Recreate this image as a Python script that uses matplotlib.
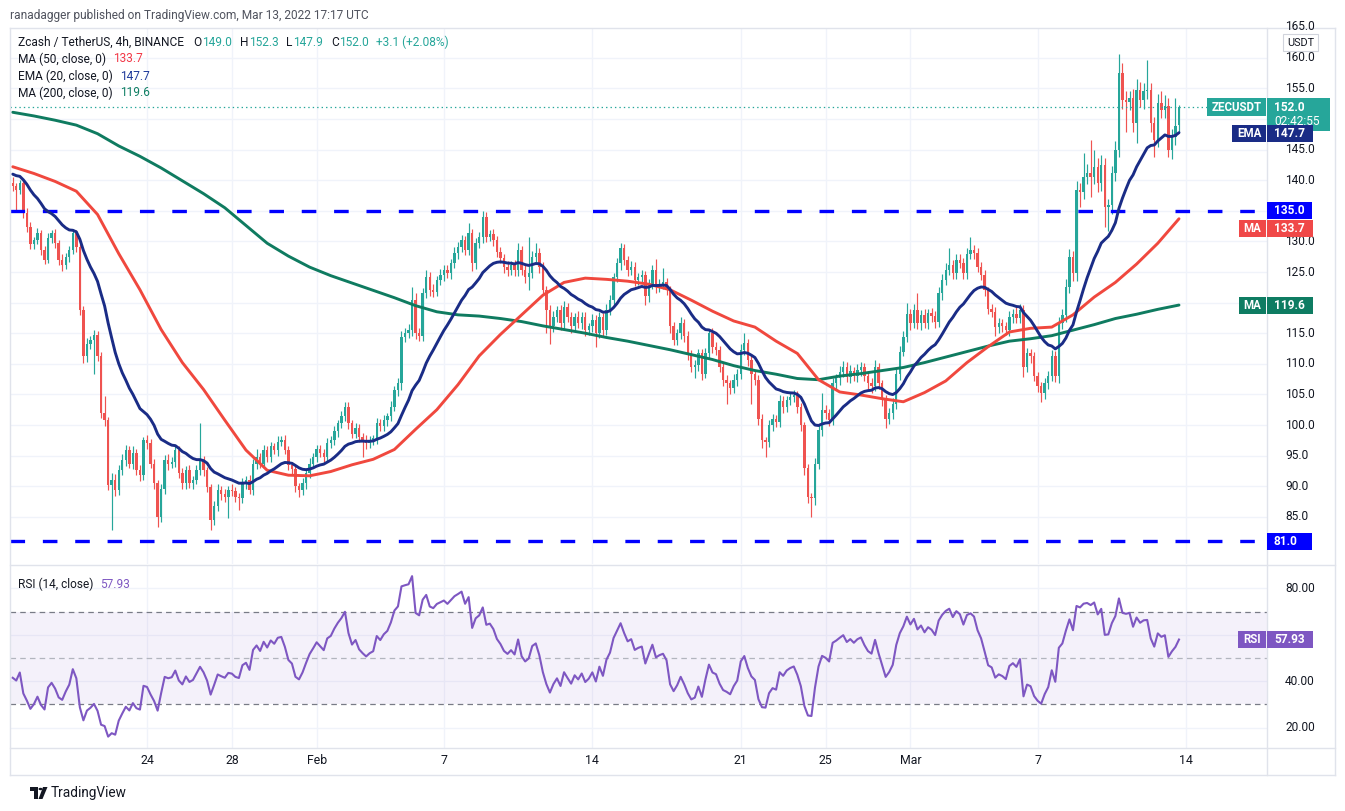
import numpy as np
import matplotlib
matplotlib.use("Agg")
import matplotlib.pyplot as plt
from matplotlib.patches import Rectangle, Polygon, Circle
from matplotlib.lines import Line2D

plt.rcParams['font.family'] = ['Roboto', 'DejaVu Sans']
plt.rcParams['lines.scale_dashes'] = False

# ---------------- data (4h candles, Jan 17 16:00 -> Mar 13 16:00, 2022) ----------------
first_open = 139.5
closes = [
    139.0, 138.4, 139.6, 134.6, 132.4, 129.5, 130.2, 131.3, 128.6, 127.0,
    130.5, 131.3, 129.7, 127.0, 126.2, 127.5, 128.6, 131.3, 129.1, 118.8,
    111.2, 113.3, 113.9, 114.7, 111.2, 101.9, 100.8, 90.2, 91.0, 89.4,
    92.6, 94.3, 95.9, 93.7, 95.4, 92.6, 91.8, 97.5, 97.0, 93.7,
    90.5, 85.0, 89.5, 94.3, 93.7, 94.0, 95.9, 92.1, 90.5, 92.6,
    90.5, 91.0, 92.6, 94.3, 92.6, 89.9, 84.5, 86.8, 89.4, 88.8,
    88.3, 89.4, 89.2, 88.3, 88.0, 90.5, 91.0, 89.4, 93.7, 94.8,
    93.7, 95.9, 94.8, 96.5, 95.9, 97.3, 97.5, 95.9, 93.5, 92.8,
    90.0, 89.4, 90.5, 92.1, 93.7, 94.8, 96.0, 95.4, 94.8, 97.0,
    97.5, 99.0, 100.3, 101.4, 103.0, 100.3, 98.6, 99.5, 98.1, 97.5,
    97.0, 97.5, 97.8, 100.3, 99.8, 100.8, 101.4, 103.0, 105.7, 106.8,
    114.4, 115.0, 115.5, 120.4, 115.0, 114.6, 121.5, 124.2, 122.1, 121.8,
    123.7, 124.5, 125.3, 124.8, 126.4, 128.1, 129.1, 130.2, 128.6, 131.3,
    126.4, 129.7, 130.8, 134.0, 130.8, 131.2, 130.2, 128.3, 127.3, 125.9,
    125.3, 126.1, 125.3, 128.6, 125.3, 124.2, 124.8, 127.5, 128.1, 125.9,
    122.1, 118.8, 116.1, 117.7, 118.8, 116.6, 119.3, 117.7, 116.1, 117.7,
    116.6, 117.7, 115.5, 116.1, 117.2, 115.0, 117.7, 115.5, 118.8, 120.4,
    124.2, 126.4, 128.9, 127.0, 125.3, 125.9, 123.7, 124.2, 124.5, 121.0,
    123.1, 125.3, 122.6, 123.1, 123.4, 122.1, 116.1, 113.9, 115.0, 116.6,
    114.5, 111.7, 109.5, 109.8, 111.7, 108.4, 111.7, 115.0, 112.8, 112.3,
    109.5, 107.4, 106.8, 106.0, 107.4, 108.4, 112.2, 113.4, 110.6, 108.4,
    107.4, 101.0, 97.5, 97.3, 100.0, 101.0, 100.5, 104.0, 103.0, 104.1,
    104.6, 104.9, 103.0, 100.0, 93.0, 88.3, 88.0, 93.7, 99.2, 102.5,
    101.9, 100.8, 106.8, 107.6, 108.6, 109.5, 107.9, 108.8, 108.0, 109.0,
    109.5, 108.0, 106.8, 106.3, 109.5, 106.8, 104.1, 101.0, 102.0, 103.5,
    108.4, 112.0, 114.4, 118.2, 116.6, 118.8, 116.6, 118.0, 116.6, 118.3,
    117.8, 116.8, 121.5, 123.7, 125.3, 126.2, 124.8, 127.0, 126.5, 124.8,
    128.0, 128.6, 128.1, 125.9, 124.5, 122.0, 119.0, 118.5, 116.0, 116.6,
    116.2, 115.5, 117.7, 118.2, 117.5, 118.8, 109.5, 111.7, 111.2, 108.0,
    106.3, 105.2, 106.8, 108.0, 111.2, 108.0, 116.6, 118.0, 122.6, 127.5,
    124.8, 138.4, 138.0, 140.6, 141.1, 140.6, 142.2, 139.5, 142.5, 135.7,
    135.9, 141.1, 144.9, 157.5, 153.1, 152.8, 153.4, 149.3, 154.7, 153.1,
    154.5, 154.7, 149.3, 146.6, 152.6, 151.5, 152.2, 144.9, 147.1, 148.9,
    152.0,
]
upper_wicks = [
    1.0, 0.6, 0.5, 0.4, 0.8, 0.7, 0.6, 0.9, 0.5, 0.6,
    0.8, 0.6, 0.7, 0.5, 0.9, 0.6, 0.7, 0.8, 0.6, 0.5,
    0.6, 0.9, 0.7, 0.8, 0.6, 0.7, 2.8, 0.5, 1.2, 1.0,
    0.8, 1.0, 0.9, 0.7, 1.1, 0.6, 0.8, 0.6, 0.9, 0.7,
    0.8, 0.5, 0.9, 0.8, 1.0, 0.7, 0.9, 0.6, 0.8, 0.7,
    0.9, 0.6, 0.8, 6.0, 0.7, 0.6, 0.5, 0.8, 0.9, 0.7,
    0.8, 0.6, 0.9, 0.7, 0.6, 0.8, 0.7, 0.9, 0.8, 1.2,
    0.6, 0.9, 0.7, 0.8, 0.6, 0.9, 0.7, 0.8, 0.6, 0.5,
    0.7, 0.6, 0.8, 0.7, 0.9, 0.6, 0.8, 0.7, 0.6, 0.9,
    0.7, 0.8, 0.6, 0.9, 0.8, 0.7, 0.6, 0.9, 0.7, 0.6,
    0.8, 0.7, 0.6, 0.9, 0.7, 0.8, 0.6, 0.9, 0.7, 0.8,
    0.9, 0.8, 1.0, 2.2, 1.2, 0.8, 0.9, 1.1, 0.8, 0.9,
    0.7, 1.0, 0.8, 0.9, 0.7, 1.0, 0.8, 0.9, 0.7, 1.7,
    0.8, 0.9, 0.7, 0.9, 0.8, 0.6, 0.9, 0.7, 0.8, 0.6,
    0.9, 0.7, 0.8, 1.2, 0.7, 0.8, 6.0, 0.9, 1.6, 0.8,
    0.7, 0.6, 0.8, 0.9, 0.7, 0.8, 1.0, 0.7, 0.8, 0.6,
    0.9, 0.7, 0.8, 0.6, 0.9, 0.7, 0.8, 0.6, 0.9, 0.8,
    0.7, 0.9, 0.8, 0.7, 0.6, 0.9, 0.8, 0.7, 0.9, 0.6,
    0.8, 0.9, 1.9, 0.8, 2.2, 0.7, 0.6, 0.8, 0.7, 1.1,
    0.7, 0.8, 0.6, 0.9, 0.8, 0.7, 0.9, 0.5, 0.8, 0.7,
    0.6, 0.8, 0.7, 0.6, 0.9, 0.8, 1.0, 1.6, 0.7, 0.8,
    0.6, 0.7, 0.8, 0.6, 0.9, 0.8, 0.7, 0.9, 0.8, 0.7,
    0.8, 0.9, 0.7, 0.6, 0.5, 0.7, 0.6, 0.9, 0.8, 2.7,
    0.8, 0.7, 0.9, 0.8, 1.0, 0.9, 0.8, 1.0, 0.7, 0.9,
    0.8, 0.7, 0.9, 0.8, 1.1, 0.7, 0.6, 0.8, 0.7, 0.9,
    0.8, 0.9, 1.0, 1.7, 0.8, 0.9, 2.7, 0.8, 0.9, 0.7,
    0.9, 0.8, 1.0, 0.9, 1.1, 2.7, 0.8, 1.0, 0.9, 0.8,
    1.0, 2.2, 0.8, 0.9, 0.7, 0.8, 0.6, 0.7, 0.8, 0.9,
    0.8, 0.7, 0.9, 0.8, 1.1, 1.0, 0.8, 0.9, 0.7, 0.8,
    0.6, 0.7, 0.9, 0.8, 1.0, 0.9, 1.1, 1.0, 1.2, 1.3,
    1.0, 1.4, 1.2, 3.8, 1.5, 5.5, 2.7, 1.4, 1.6, 1.2,
    1.0, 1.3, 1.5, 3.2, 1.6, 1.4, 1.2, 1.5, 1.8, 1.3,
    1.4, 4.9, 1.2, 1.1, 1.5, 2.0, 1.7, 1.3, 1.2, 4.5,
    0.3,
]
lower_wicks = [
    0.7, 3.5, 0.6, 0.8, 0.9, 0.7, 0.8, 0.6, 0.9, 0.7,
    0.6, 0.8, 0.7, 0.9, 1.0, 0.7, 0.8, 0.6, 0.9, 0.8,
    1.0, 0.9, 0.8, 5.6, 0.8, 0.7, 0.9, 0.8, 7.4, 1.0,
    0.9, 0.8, 1.0, 0.7, 0.9, 0.8, 1.0, 0.8, 0.9, 0.8,
    1.0, 1.6, 0.9, 0.8, 1.0, 0.7, 0.9, 0.8, 1.0, 0.9,
    0.8, 0.9, 0.7, 0.8, 0.9, 0.8, 1.7, 0.9, 0.8, 1.0,
    0.9, 3.5, 0.8, 0.9, 1.9, 0.8, 0.9, 0.7, 0.8, 0.9,
    0.8, 0.7, 0.9, 0.8, 0.7, 0.9, 0.8, 0.7, 0.9, 0.8,
    1.0, 1.2, 0.8, 0.9, 0.7, 0.8, 0.9, 0.7, 0.8, 0.9,
    0.8, 0.7, 0.9, 0.8, 0.7, 0.9, 0.8, 0.7, 0.9, 2.7,
    0.9, 0.8, 0.7, 0.9, 0.8, 0.7, 0.9, 0.8, 0.7, 0.9,
    1.0, 0.9, 0.8, 1.0, 0.9, 0.8, 0.9, 0.8, 1.0, 0.9,
    0.8, 0.9, 1.0, 0.8, 0.9, 0.8, 1.0, 0.9, 0.8, 0.9,
    1.2, 0.9, 0.8, 1.0, 0.9, 0.8, 1.0, 0.9, 0.8, 1.0,
    0.9, 0.8, 1.0, 0.9, 0.8, 1.0, 2.1, 0.8, 0.9, 1.0,
    0.9, 3.8, 2.8, 0.9, 0.8, 1.0, 0.9, 0.8, 1.0, 0.9,
    0.8, 0.9, 1.0, 0.8, 0.9, 2.2, 0.8, 0.9, 0.8, 0.9,
    0.8, 0.9, 1.0, 0.8, 0.9, 0.8, 1.0, 0.9, 0.8, 1.4,
    0.9, 0.8, 1.0, 0.9, 0.8, 0.9, 1.0, 0.9, 0.8, 1.0,
    0.9, 1.0, 0.8, 1.9, 0.9, 1.0, 0.8, 0.9, 1.0, 0.8,
    0.9, 1.0, 3.3, 0.9, 0.8, 1.0, 0.9, 0.8, 1.0, 4.9,
    0.9, 1.0, 1.2, 2.5, 0.9, 1.0, 0.8, 0.9, 1.0, 0.8,
    0.9, 0.8, 1.0, 0.9, 1.2, 1.0, 3.0, 1.0, 0.9, 1.0,
    0.9, 1.0, 0.8, 0.9, 1.0, 0.8, 0.9, 1.0, 0.8, 0.9,
    1.0, 0.8, 0.9, 1.0, 0.8, 0.9, 1.0, 1.5, 0.9, 1.0,
    0.9, 1.0, 0.8, 0.9, 1.0, 0.8, 0.9, 1.0, 0.8, 0.9,
    1.0, 0.9, 0.8, 1.0, 0.9, 0.8, 1.0, 0.9, 0.8, 1.0,
    0.9, 0.8, 1.0, 0.9, 0.8, 1.0, 0.9, 0.8, 1.5, 0.9,
    1.0, 0.8, 0.9, 1.0, 0.8, 0.9, 1.6, 0.9, 1.0, 0.8,
    0.9, 1.4, 1.0, 0.9, 0.8, 1.0, 1.1, 0.9, 1.2, 1.0,
    1.3, 1.2, 2.3, 1.1, 1.3, 3.3, 1.2, 1.5, 1.3, 3.3,
    4.0, 1.5, 1.3, 1.1, 1.4, 5.0, 1.3, 1.5, 3.3, 1.2,
    1.4, 1.3, 1.5, 2.8, 1.2, 1.4, 1.3, 1.1, 1.5, 1.4,
    1.2,
]
# last candle as printed in the legend
last_open, last_high, last_low = 149.0, 152.3, 147.9

# simple moving averages (every 6 candles)
ma_idx = list(range(0, 331, 6))
ma200 = [151.1, 150.5, 149.8, 149.0, 147.6, 145.6, 143.9, 142.0, 139.9, 137.8,
         135.5, 132.6, 129.7, 127.6, 125.8, 124.4, 123.2, 122.0, 120.8, 119.5,
         118.5, 118.0, 117.8, 117.4, 116.9, 116.2, 115.6, 115.0, 114.3, 113.7,
         113.0, 112.3, 111.5, 110.7, 109.7, 108.9, 108.3, 107.6, 107.4, 108.0,
         108.4, 108.9, 109.4, 110.2, 111.1, 112.0, 112.9, 113.7, 114.1, 114.6,
         115.5, 116.4, 117.4, 118.1, 118.9, 119.6]
ma50 = [142.2, 141.1, 139.8, 138.2, 134.4, 128.0, 122.1, 115.6, 110.2, 105.8,
        100.8, 95.9, 92.6, 91.8, 91.7, 92.4, 93.5, 94.4, 96.0, 99.3,
        102.5, 106.6, 111.3, 114.8, 118.0, 121.2, 123.3, 124.0, 123.8, 123.5,
        123.0, 122.1, 120.4, 118.6, 117.0, 116.0, 113.7, 111.7, 107.4, 105.4,
        104.9, 104.3, 103.8, 105.3, 107.2, 110.2, 112.8, 115.2, 115.8, 116.0,
        118.0, 120.9, 123.3, 126.3, 129.7, 133.7]
ma50_last, ma200_last = 133.7, 119.6
# EMA(20, close) seeded with the value read at the left edge
ema_seed, ema_last = 141.2, 147.7
rsi_seed_gain, rsi_seed_loss = 0.7, 0.95
rsi_last = 57.93
support_levels = [135.0, 81.0]

tick_idx = [38, 62, 86, 122, 164, 206, 230, 254, 290, 332]
tick_labels = ['24', '28', 'Feb', '7', '14', '21', '25', 'Mar', '7', '14']
price_grid = list(range(85, 165, 5))
price_labels = [85, 90, 95, 100, 105, 110, 115, 125, 130, 140, 145, 155, 160, 165]
rsi_grid = [20, 40, 60, 80]
rsi_labels = [20, 40, 80]

# ---------------- style ----------------
UP, DOWN = '#26a69a', '#ef5350'
C_MA50, C_EMA, C_MA200 = '#f0483e', '#1a2c86', '#0f7b60'
C_RSI = '#7e57c2'
GRID = '#f0f3fa'
FRAME = '#e0e3eb'
TXT = '#131722'
BLUE = '#0000ff'

W, H = 1345, 811
fig = plt.figure(figsize=(W / 100, H / 100), dpi=100)
fig.patch.set_facecolor('white')


def fx(px):
    return px / W


def fy(py):
    return 1 - py / H


PL, PR = 10, 1267
P_TOP, P_BOT = 28, 564
R_TOP, R_BOT = 566, 748

ax = fig.add_axes([fx(PL), fy(P_BOT), (PR - PL) / W, (P_BOT - P_TOP) / H])
axr = fig.add_axes([fx(PL), fy(R_BOT), (PR - PL) / W, (R_BOT - R_TOP) / H])
for a in (ax, axr):
    a.set_xlim(-0.77, 354.9)
    a.set_axis_off()
ax.set_ylim(77.29, 164.87)
axr.set_ylim(11.16, 89.7)

for p in price_grid:
    ax.axhline(p, color=GRID, lw=1.0, zorder=0)
for r in rsi_grid:
    axr.axhline(r, color=GRID, lw=1.0, zorder=0)
for t in tick_idx:
    ax.axvline(t, color=GRID, lw=1.0, zorder=0)
    axr.axvline(t, color=GRID, lw=1.0, zorder=0)

# candles
c = np.array(closes)
o = np.r_[first_open, c[:-1]]
o[-1] = last_open
hi = np.maximum(o, c) + np.array(upper_wicks)
lo = np.minimum(o, c) - np.array(lower_wicks)
x = np.arange(len(c))
cols = np.where(c >= o, UP, DOWN)
ax.vlines(x, lo, hi, colors=cols, lw=0.85, zorder=2)
ax.bar(x, np.maximum(np.abs(c - o), 0.18), bottom=np.minimum(o, c), width=0.68,
       color=cols, linewidth=0, zorder=3)

for lvl in support_levels:
    ax.axhline(lvl, color=BLUE, lw=2.4, dashes=(10.5, 12.8), zorder=4)

# EMA(20) of closes
k = 2 / 21
ema = []
e = ema_seed
for v in c:
    e = e + k * (v - e)
    ema.append(e)

ax.plot(ma_idx, ma200, color=C_MA200, lw=2.1, zorder=5, solid_capstyle='round')
ax.plot(ma_idx, ma50, color=C_MA50, lw=2.1, zorder=5, solid_capstyle='round')
ax.plot(x, ema, color=C_EMA, lw=2.1, zorder=6, solid_capstyle='round', solid_joinstyle='round')

ax.axhline(c[-1], color=UP, lw=0.9, dashes=(1, 2.2), zorder=4)

# RSI (14, close), Wilder smoothing
prev = np.r_[first_open, c[:-1]]
gains = np.clip(c - prev, 0, None)
losses = np.clip(prev - c, 0, None)
ag, al = rsi_seed_gain, rsi_seed_loss
rsi = []
for g, l in zip(gains, losses):
    ag = (ag * 13 + g) / 14
    al = (al * 13 + l) / 14
    rsi.append(100 - 100 / (1 + ag / al))
axr.axhspan(30, 70, color=C_RSI, alpha=0.08, lw=0, zorder=0)
axr.axhline(70, color='#787b86', lw=0.9, dashes=(4, 3), zorder=1)
axr.axhline(50, color='#b2b5be', lw=0.9, dashes=(4, 3), zorder=1)
axr.axhline(30, color='#787b86', lw=0.9, dashes=(4, 3), zorder=1)
axr.plot(x, rsi, color=C_RSI, lw=1.5, zorder=3)


# ---------------- frame ----------------
def fline(x0, y0, x1, y1, color=FRAME, lw=1.0):
    fig.add_artist(Line2D([fx(x0), fx(x1)], [fy(y0), fy(y1)], transform=fig.transFigure,
                          color=color, lw=lw, zorder=1))


fline(PL, 28, 1335, 28)
fline(PL, 28, PL, 775)
fline(1335, 28, 1335, 775)
fline(PL, 775, 1335, 775)
fline(PR, 28, PR, 775)
fline(PL, 565, 1335, 565)
fline(PL, 748, 1335, 748)

fig.canvas.draw()
renderer = fig.canvas.get_renderer()


def ypx(axis, v):
    return H - axis.transData.transform((0, v))[1]


def xpx(axis, v):
    return axis.transData.transform((v, 0))[0]


def ftext(px, py, s, **kw):
    kw.setdefault('va', 'center')
    kw.setdefault('ha', 'left')
    return fig.text(fx(px), fy(py), s, **kw)


def box(x0, x1, y0, y1, fc, ec=None, lw=0.0, z=8):
    fig.add_artist(Rectangle((fx(x0), fy(y1)), (x1 - x0) / W, (y1 - y0) / H,
                             transform=fig.transFigure, facecolor=fc,
                             edgecolor=ec if ec else fc, linewidth=lw, zorder=z))


def seq(x0, py, parts, fs):
    """place text pieces one after another: parts = [(text, color, gap_after)]"""
    xx = x0
    for s, col, gap in parts:
        t = ftext(xx, py, s, fontsize=fs, color=col)
        bb = t.get_window_extent(renderer)
        xx = bb.x1 + gap


# price scale labels
for p in price_labels:
    yy = ypx(ax, p) if p < 165 else 27
    ftext(1285, yy, f"{p:.1f}", fontsize=8.6, color=TXT)
for r in rsi_labels:
    ftext(1285, ypx(axr, r), f"{r:.2f}", fontsize=8.6, color=TXT)

box(1283, 1318, 34, 51, 'white', ec='#d1d4dc', lw=0.8, z=9)
ftext(1300.5, 42.5, "USDT", fontsize=7.8, color=TXT, ha='center', zorder=10)

# last price tag
yc = ypx(ax, c[-1])
box(1207, 1266, yc - 8.5, yc + 9.5, UP)
ftext(1236.5, yc + 0.5, "ZECUSDT", fontsize=8.3, color='white', ha='center', weight='bold', zorder=9)
box(1267, 1330, yc - 8.5, yc + 24, UP)
ftext(1274, yc + 0.5, f"{c[-1]:.1f}", fontsize=8.6, color='white', weight='bold', zorder=9)
ftext(1274, yc + 15, "02:42:55", fontsize=8.6, color='white', zorder=9)

# EMA tag
ye = ypx(ax, ema_last)
box(1232, 1266, ye - 8.5, ye + 8.5, C_EMA)
ftext(1249, ye, "EMA", fontsize=8.3, color='white', ha='center', weight='bold', zorder=9)
box(1267, 1313, ye - 8.5, ye + 8.5, C_EMA)
ftext(1274, ye, f"{ema_last:.1f}", fontsize=8.6, color='white', weight='bold', zorder=9)

for lvl in support_levels:
    ys = ypx(ax, lvl)
    box(1267, 1312, ys - 8.5, ys + 8.5, BLUE)
    ftext(1274, ys, f"{lvl:.1f}", fontsize=8.6, color='white', weight='bold', zorder=9)

ym = max(ypx(ax, ma50_last), ypx(ax, support_levels[0]) + 17.5)
box(1239, 1266, ym - 8.5, ym + 8.5, '#f04848')
ftext(1252.5, ym, "MA", fontsize=8.3, color='white', ha='center', weight='bold', zorder=9)
box(1267, 1313, ym - 8.5, ym + 8.5, '#f04848')
ftext(1274, ym, f"{ma50_last:.1f}", fontsize=8.6, color='white', weight='bold', zorder=9)

yg = ypx(ax, ma200_last)
box(1239, 1266, yg - 8.5, yg + 8.5, '#0e7c62')
ftext(1252.5, yg, "MA", fontsize=8.3, color='white', ha='center', weight='bold', zorder=9)
box(1267, 1313, yg - 8.5, yg + 8.5, '#0e7c62')
ftext(1274, yg, f"{ma200_last:.1f}", fontsize=8.6, color='white', weight='bold', zorder=9)

yr = ypx(axr, rsi_last)
box(1238, 1266, yr - 8.5, yr + 8.5, C_RSI)
ftext(1252, yr, "RSI", fontsize=8.3, color='white', ha='center', weight='bold', zorder=9)
box(1267, 1313, yr - 8.5, yr + 8.5, C_RSI)
ftext(1274, yr, f"{rsi_last:.2f}", fontsize=8.6, color='white', weight='bold', zorder=9)

for t, lab in zip(tick_idx, tick_labels):
    ftext(xpx(axr, t), 761, lab, fontsize=8.8, color=TXT, ha='center')

# ---------------- header / legend ----------------
ftext(10, 15, "ranadagger published on TradingView.com, Mar 13, 2022 17:17 UTC",
      fontsize=8.6, color='#50535e')

LEG = 8.6
chg = c[-1] - c[-2]
seq(18, 42, [("Zcash / TetherUS, 4h, BINANCE", TXT, 9),
             ("O", TXT, 0.5), (f"{last_open:.1f}", UP, 8),
             ("H", TXT, 0.5), (f"{last_high:.1f}", UP, 8),
             ("L", TXT, 0.5), (f"{last_low:.1f}", UP, 8),
             ("C", TXT, 0.5), (f"{c[-1]:.1f}", UP, 7),
             (f"+{chg:.1f} (+{chg / c[-2] * 100:.2f}%)", UP, 0)], LEG)
seq(18, 59, [("MA (50, close, 0)", TXT, 7), (f"{ma50_last:.1f}", '#f23645', 0)], LEG)
seq(18, 76, [("EMA (20, close, 0)", TXT, 7), (f"{ema_last:.1f}", '#1e3a9a', 0)], LEG)
seq(18, 93, [("MA (200, close, 0)", TXT, 7), (f"{ma200_last:.1f}", '#0f7f63', 0)], LEG)
seq(18, 584, [("RSI (14, close)", TXT, 7), (f"{rsi_last:.2f}", C_RSI, 0)], LEG)

# footer logo + name
fig.add_artist(Polygon([(fx(30), fy(787)), (fx(38), fy(787)), (fx(38), fy(799)),
                        (fx(34), fy(799)), (fx(34), fy(791)), (fx(30), fy(791))],
                       closed=True, transform=fig.transFigure, fc=TXT, ec='none'))
fig.add_artist(Polygon([(fx(43), fy(787)), (fx(47.5), fy(787)), (fx(42.5), fy(799)),
                        (fx(38.5), fy(799))],
                       closed=True, transform=fig.transFigure, fc=TXT, ec='none'))
fig.add_artist(Circle((fx(40.5), fy(789)), 2.0 / W, transform=fig.transFigure, fc=TXT, ec='none'))
ftext(51, 793.5, "TradingView", fontsize=9.8, color=TXT)

fig.savefig("out.png", dpi=100, facecolor='white')
